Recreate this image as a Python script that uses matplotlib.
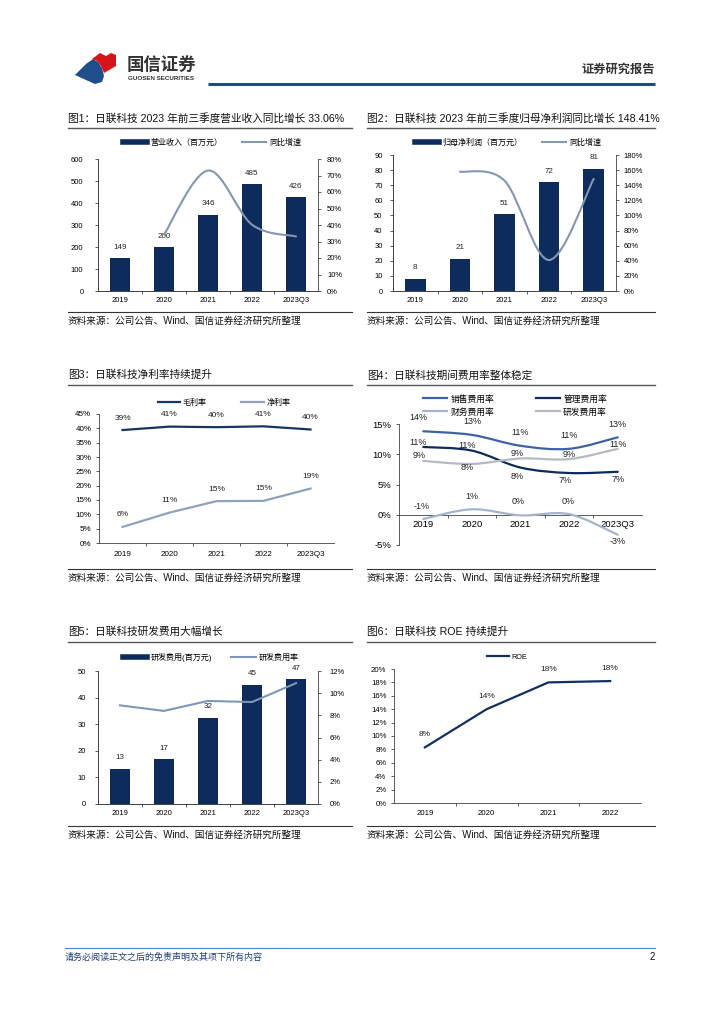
import matplotlib
matplotlib.use("Agg")
import matplotlib.pyplot as plt
import numpy as np
from matplotlib.path import Path
from matplotlib.patches import PathPatch, Polygon
from matplotlib.lines import Line2D

plt.rcParams['font.family'] = ['Liberation Sans', 'Noto Sans CJK SC', 'DejaVu Sans']
plt.rcParams['axes.unicode_minus'] = False

# ====== Data =====
years5 = ['2019', '2020', '2021', '2022', '2023Q3']
years4 = ['2019', '2020', '2021', '2022']

revenue = [149, 200, 346, 485, 426]                 # 营业收入（百万元）
revenue_yoy = [np.nan, 34.2, 73.0, 40.2, 33.06]     # 同比增速 %
profit = [8.2, 21.3, 50.9, 72.1, 81.0]              # 归母净利润（百万元）
profit_yoy = [np.nan, 158.0, 146.0, 41.0, 148.41]   # 同比增速 %

gross_margin = [39.4, 40.6, 40.4, 40.7, 39.6]       # 毛利率
net_margin = [5.6, 10.6, 14.6, 14.7, 19.0]          # 净利率

sales_rate = [13.8, 13.2, 11.4, 10.9, 12.8]         # 销售费用率
admin_rate = [11.2, 10.6, 7.8, 6.9, 7.1]            # 管理费用率
fin_rate = [-0.7, 0.9, -0.1, 0.1, -3.3]             # 财务费用率
rd_rate = [8.9, 8.4, 9.3, 9.2, 10.9]                # 研发费用率

rd_expense = [13.2, 16.9, 32.4, 44.8, 46.9]         # 研发费用（百万元）
roe = [8.3, 14.0, 18.0, 18.2]                       # ROE %

# ====== Style =====
NAVY = '#0D2B5C'
STEEL = '#8497B0'
AX = '#404040'
W, H = 724, 1024

fig = plt.figure(figsize=(W / 100, H / 100), dpi=100)
fig.patch.set_facecolor('white')

# page layer in pixel coordinates
bg = fig.add_axes([0, 0, 1, 1])
bg.set_xlim(0, W)
bg.set_ylim(H, 0)
bg.axis('off')


def px_axes(l, t, r, b):
    ax = fig.add_axes([l / W, 1 - b / H, (r - l) / W, (b - t) / H])
    ax.patch.set_alpha(0)
    return ax


def smooth_path(xs, ys):
    # excel-like smoothed line through the points (bezier segments)
    pts = np.column_stack([xs, ys]).astype(float)
    n = len(pts)
    verts = [tuple(pts[0])]
    codes = [Path.MOVETO]
    for i in range(n - 1):
        p0 = pts[i - 1] if i > 0 else pts[i]
        p1, p2 = pts[i], pts[i + 1]
        p3 = pts[i + 2] if i + 2 < n else pts[i + 1]
        c1 = p1 + (p2 - p0) / 6
        c2 = p2 - (p3 - p1) / 6
        verts += [tuple(c1), tuple(c2), tuple(p2)]
        codes += [Path.CURVE4] * 3
    return Path(verts, codes)


def draw_smooth(ax, xs, ys, color, lw):
    xs = np.asarray(xs, float)
    ys = np.asarray(ys, float)
    ok = ~np.isnan(ys)
    ax.add_patch(PathPatch(smooth_path(xs[ok], ys[ok]), fill=False,
                           edgecolor=color, lw=lw, capstyle='round', zorder=4))


def style_ax(ax, n, fs, xpad, ypad, right=False):
    ax.spines['top'].set_visible(False)
    ax.spines['right'].set_visible(right)
    for s in ['left', 'bottom', 'right']:
        ax.spines[s].set_color(AX)
        ax.spines[s].set_linewidth(0.6)
    ax.set_xlim(-0.5, n - 0.5)
    ax.tick_params(axis='y', length=2.5, width=0.6, color=AX, labelsize=fs, pad=ypad)
    ax.tick_params(axis='x', which='major', length=0, labelsize=fs, pad=xpad)
    ax.set_xticks(np.arange(0.5, n - 1, 1), minor=True)
    ax.tick_params(axis='x', which='minor', length=2.5, width=0.6, color=AX)


def right_axis(ax, top, step, fs, pad):
    axr = ax.twinx()
    axr.patch.set_alpha(0)
    axr.spines['top'].set_visible(False)
    for s in ['left', 'bottom', 'right']:
        axr.spines[s].set_color(AX)
        axr.spines[s].set_linewidth(0.6)
    axr.set_ylim(0, top)
    axr.set_yticks(np.arange(0, top + step / 2, step))
    pct(axr)
    axr.tick_params(axis='y', length=2.5, width=0.6, color=AX, labelsize=fs, pad=pad)
    return axr


def pct(ax):
    ax.yaxis.set_major_formatter(matplotlib.ticker.FuncFormatter(lambda v, p: f'{v:.0f}%'))


def title_block(x0, x1, y_title, y_src, text):
    bg.text(x0, y_title, text, fontsize=7.7, color='#111111', va='center', ha='left')
    bg.plot([x0, x1], [y_title + 9.5, y_title + 9.5], color='#555555', lw=1.0)
    bg.plot([x0, x1], [y_src - 9, y_src - 9], color='#333333', lw=0.8)
    bg.text(x0, y_src, '资料来源：公司公告、Wind、国信证券经济研究所整理', fontsize=6.9,
            color='#111111', va='center', ha='left')


# ====== Header / footer =====
bg.add_patch(Polygon([(75, 75), (86, 64), (93, 59), (98, 62), (102, 68), (104, 76), (102, 82), (95, 84), (86, 80)],
                     closed=True, color='#1F4F8B', lw=0))
bg.add_patch(Polygon([(92, 59), (100, 53), (106, 56), (111, 53), (116, 55), (116, 66), (104, 73), (101, 66), (97, 61)],
                     closed=True, color='#D7141A', lw=0))
bg.text(127, 64, '国信证券', fontsize=12.5, color='#333333', va='center', ha='left', fontweight='bold')
bg.text(128, 78, 'GUOSEN SECURITIES', fontsize=4.5, color='#333333', va='center', ha='left', fontweight='bold')
bg.text(655, 70, '证券研究报告', fontsize=8.8, color='#333333', va='center', ha='right', fontweight='bold')
bg.plot([208, 655], [84, 84], color='#1F4E79', lw=2.2, solid_capstyle='butt')

bg.plot([65, 655], [948, 948], color='#4F81BD', lw=0.8)
bg.text(65, 957, '请务必阅读正文之后的免责声明及其项下所有内容', fontsize=6.5, color='#1F3F77',
        va='center', ha='left', style='italic')
bg.text(655, 957, '2', fontsize=7, color='#111111', va='center', ha='right')

# ====== Titles and sources =====
title_block(68, 352, 118, 321, '图1：日联科技 2023 年前三季度营业收入同比增长 33.06%')
title_block(367, 655, 118, 321, '图2：日联科技 2023 年前三季度归母净利润同比增长 148.41%')
title_block(68, 352, 375, 578, '图3：日联科技净利率持续提升')
title_block(367, 655, 375, 578, '图4：日联科技期间费用率整体稳定')
title_block(68, 352, 632, 835, '图5：日联科技研发费用大幅增长')
title_block(367, 655, 632, 835, '图6：日联科技 ROE 持续提升')

x5 = np.arange(len(years5))
x4 = np.arange(len(years4))

# ====== Chart 1 =====
ax1 = px_axes(98, 159, 318, 291)
style_ax(ax1, 5, 5.5, 4, 8)
ax1.bar(x5, revenue, width=0.46, color=NAVY, zorder=2)
ax1.set_ylim(0, 600)
ax1.set_yticks(np.arange(0, 601, 100))
ax1.set_xticks(x5)
ax1.set_xticklabels(years5)
for xi, v in zip(x5, revenue):
    ax1.annotate(f'{v:.0f}', (xi, v), xytext=(0, 11), textcoords='offset pixels',
                 ha='center', va='center', fontsize=5.8, color='#222222')
ax1r = right_axis(ax1, 80, 10, 5.5, 4)
draw_smooth(ax1r, x5, revenue_yoy, STEEL, 1.5)
fig.legend([Line2D([], [], color=NAVY, lw=4), Line2D([], [], color=STEEL, lw=1.5)],
           ['营业收入（百万元）', '同比增速'], loc='center', bbox_to_anchor=(212 / W, 1 - 143 / H),
           ncol=2, frameon=False, fontsize=5.8, handlelength=3.0, handletextpad=0.4, columnspacing=2.4)

# ====== Chart 2 =====
ax2 = px_axes(393, 155, 616, 291)
style_ax(ax2, 5, 5.5, 4, 5)
ax2.bar(x5, profit, width=0.46, color=NAVY, zorder=2)
ax2.set_ylim(0, 90)
ax2.set_yticks(np.arange(0, 91, 10))
ax2.set_xticks(x5)
ax2.set_xticklabels(years5)
for xi, v in zip(x5, profit):
    ax2.annotate(f'{v:.0f}', (xi, v), xytext=(0, 11), textcoords='offset pixels',
                 ha='center', va='center', fontsize=5.8, color='#222222')
ax2r = right_axis(ax2, 180, 20, 5.5, 3)
draw_smooth(ax2r, x5, profit_yoy, STEEL, 1.5)
fig.legend([Line2D([], [], color=NAVY, lw=4), Line2D([], [], color=STEEL, lw=1.5)],
           ['归母净利润（百万元）', '同比增速'], loc='center', bbox_to_anchor=(508 / W, 1 - 143 / H),
           ncol=2, frameon=False, fontsize=5.8, handlelength=3.0, handletextpad=0.4, columnspacing=2.4)

# ====== Chart 3 =====
ax3 = px_axes(99, 414, 334, 543)
style_ax(ax3, 5, 5.8, 6, 3)
ax3.plot(x5, gross_margin, color='#17365D', lw=1.6, zorder=3)
ax3.plot(x5, net_margin, color='#8EA2BC', lw=1.6, zorder=3)
ax3.set_ylim(0, 45)
ax3.set_yticks(np.arange(0, 46, 5))
pct(ax3)
ax3.set_xticks(x5)
ax3.set_xticklabels(years5)
for series in [gross_margin, net_margin]:
    for xi, v in zip(x5, series):
        ax3.annotate(f'{int(round(v))}%', (xi, v), xytext=(0, 12), textcoords='offset pixels',
                     ha='center', va='center', fontsize=6, color='#222222')
fig.legend([Line2D([], [], color='#17365D', lw=1.6), Line2D([], [], color='#8EA2BC', lw=1.6)],
           ['毛利率', '净利率'], loc='center', bbox_to_anchor=(224 / W, 1 - 403 / H),
           ncol=2, frameon=False, fontsize=5.8, handlelength=2.8, handletextpad=0.3, columnspacing=4.3)

# ====== Chart 4 =====
C_SALES, C_ADMIN, C_FIN, C_RD = '#3F62A6', '#0E2A5A', '#A3B5CC', '#B5BAC2'
ax4 = px_axes(399, 424, 642, 545)
style_ax(ax4, 5, 6.8, 4, 3)
ax4.spines['bottom'].set_position(('data', 0))
ax4.set_ylim(-5, 15)
ax4.set_yticks(np.arange(-5, 16, 5))
pct(ax4)
ax4.set_xticks(x5)
ax4.set_xticklabels(years5)
series4 = [(sales_rate, C_SALES), (admin_rate, C_ADMIN), (fin_rate, C_FIN), (rd_rate, C_RD)]
for vals, col in series4:
    draw_smooth(ax4, x5, vals, col, 1.6)
# label offsets in pixels (dx, dy) per series
offs4 = [
    [(-5, 14), (0, 13), (0, 13), (0, 13), (0, 13)],
    [(-5, 4), (-5, 5), (-3, -9), (-4, -7), (0, -8)],
    [(-2, 12), (0, 13), (-2, 14), (-1, 13), (0, -7)],
    [(-4, 5), (-5, -4), (-3, 5), (0, 5), (0, 4)],
]
for (vals, col), offs in zip(series4, offs4):
    for xi, v, (dx, dy) in zip(x5, vals, offs):
        ax4.annotate(f'{int(round(v))}%', (xi, v), xytext=(dx, dy), textcoords='offset pixels',
                     ha='center', va='center', fontsize=6.5, color='#222222', zorder=5)
fig.legend([Line2D([], [], color=C_SALES, lw=1.6), Line2D([], [], color=C_FIN, lw=1.6),
            Line2D([], [], color=C_ADMIN, lw=1.6), Line2D([], [], color=C_RD, lw=1.6)],
           ['销售费用率', '财务费用率', '管理费用率', '研发费用率'], loc='center',
           bbox_to_anchor=(515 / W, 1 - 405.5 / H), ncol=2, frameon=False, fontsize=6.3,
           handlelength=2.7, handletextpad=0.4, columnspacing=4.8, labelspacing=0.45)

# ====== Chart 5 =====
ax5 = px_axes(98, 671, 318, 804)
style_ax(ax5, 5, 5.5, 4, 6)
ax5.bar(x5, rd_expense, width=0.46, color=NAVY, zorder=2)
ax5.set_ylim(0, 50)
ax5.set_yticks(np.arange(0, 51, 10))
ax5.set_xticks(x5)
ax5.set_xticklabels(years5)
for xi, v in zip(x5, rd_expense):
    ax5.annotate(f'{int(round(v))}', (xi, v), xytext=(0, 11), textcoords='offset pixels',
                 ha='center', va='center', fontsize=5.8, color='#222222')
ax5r = right_axis(ax5, 12, 2, 5.5, 6)
ax5r.plot(x5, rd_rate, color='#7F96B8', lw=1.5, zorder=4)
fig.legend([Line2D([], [], color=NAVY, lw=4), Line2D([], [], color='#7F96B8', lw=1.5)],
           ['研发费用(百万元)', '研发费用率'], loc='center', bbox_to_anchor=(211 / W, 1 - 657 / H),
           ncol=2, frameon=False, fontsize=5.8, handlelength=3.0, handletextpad=0.4, columnspacing=2.4)

# ====== Chart 6 =====
ax6 = px_axes(394, 669, 641, 803)
style_ax(ax6, 4, 5.6, 5, 3)
ax6.set_ylim(0, 20)
ax6.set_yticks(np.arange(0, 21, 2))
pct(ax6)
ax6.set_xticks(x4)
ax6.set_xticklabels(years4)
ax6.plot(x4, roe, color='#12305F', lw=1.6, zorder=4)
for xi, v in zip(x4, roe):
    ax6.annotate(f'{int(round(v))}%', (xi, v), xytext=(0, 13), textcoords='offset pixels',
                 ha='center', va='center', fontsize=6, color='#222222')
fig.legend([Line2D([], [], color='#12305F', lw=1.6)], ['ROE'], loc='center',
           bbox_to_anchor=(507 / W, 1 - 657 / H), frameon=False, fontsize=5.2,
           handlelength=3.0, handletextpad=0.3)

fig.savefig('out.png', dpi=100)
